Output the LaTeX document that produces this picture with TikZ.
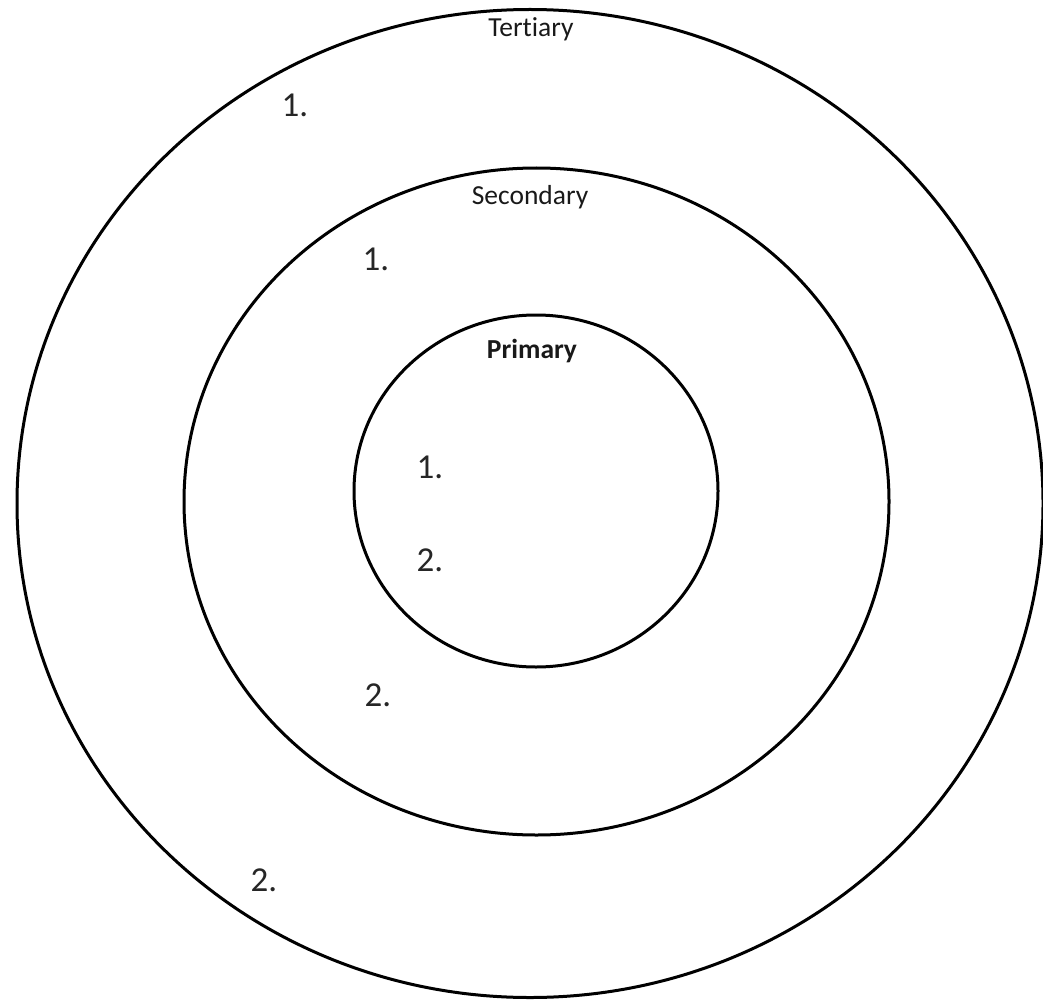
\documentclass[tikz,border=0pt]{standalone}
\usepackage{fontspec}
\setmainfont[Ligatures={NoCommon}]{Carlito}
\usetikzlibrary{shapes.geometric, positioning}
\tikzset{
	ring/.style ={ellipse, draw=black, line width=3pt, inner sep=0pt},
	lbl/.style  ={font=\fontsize{27.5}{33}\selectfont, text=black!90, inner sep=0pt},
	num/.style  ={font=\fontsize{35}{42}\selectfont, text=black!85, inner sep=0pt},
}
\begin{document}
\begin{tikzpicture}[x=1pt, y=-1pt]
	\useasboundingbox (0,0) rectangle (1043,1000);
	% rings, outer to inner
	\node[ring, minimum width=1026pt, minimum height=988pt] (outer) at (530,503.5) {};
	\node[ring, minimum width=705pt, minimum height=667pt] (middle) at (536.5,501.5) {};
	\node[ring, minimum width=364pt, minimum height=352pt] (inner) at (536,491) {};
	% ring titles
	\node[lbl] (tert) at (531,29) {Tertiary};
	\node[lbl] (sec) at (530,197) {Secondary};
	\node[lbl, font=\fontsize{27.5}{33}\selectfont\bfseries] (prim) at (532,351) {Primary};
	% numbered entries
	\node[num] (t1) at (295,105) {1.};
	\node[num] (t2) at (264,880) {2.};
	\node[num] (s1) at (376,259) {1.};
	\node[num] (s2) at (378,695) {2.};
	\node[num] (p1) at (430,467) {1.};
	\node[num] (p2) at (430,560) {2.};
\end{tikzpicture}
\end{document}
